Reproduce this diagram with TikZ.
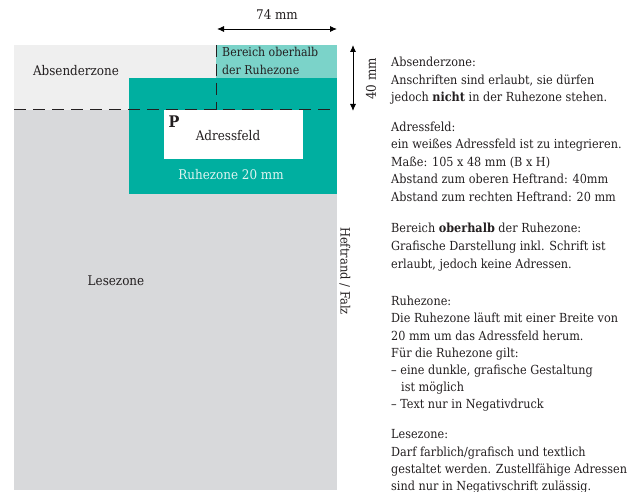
\documentclass[tikz,border=0pt]{standalone}
\usepackage{fontspec}
\setmainfont{DejaVu Serif Condensed}
\usetikzlibrary{arrows.meta}
\definecolor{cAbs}{HTML}{EFEFEF}
\definecolor{cLese}{HTML}{D8D9DB}
\definecolor{cTeal}{HTML}{00AFA0}
\definecolor{cTealL}{HTML}{7BD3C9}
\definecolor{cInk}{HTML}{231F20}
\definecolor{cNeg}{HTML}{DDF4F1}
\begin{document}
\begin{tikzpicture}[x=1pt,y=-1pt,
  txt/.style={anchor=base west, inner sep=0pt, font=\fontsize{12.5}{14}\selectfont, text=cInk},
  lbl/.style={inner sep=0pt, font=\fontsize{13.3}{14}\selectfont, text=cInk},
  dashline/.style={draw=cInk, line width=1pt, dash pattern=on 12pt off 7pt},
  dim/.style={draw=black, line width=0.9pt, {Latex[length=7pt,width=6pt]}-{Latex[length=7pt,width=6pt]}}]
\useasboundingbox (0,0) rectangle (627,492);
% zones
\fill[cLese] (14,45) rectangle (337,490);
\fill[cAbs] (14,45) rectangle (216,110);
\fill[cTealL] (216,45) rectangle (337,78);
\fill[cTeal] (129,78) rectangle (337,194);
\fill[white] (164,110) rectangle (303,159);
% dashed lines
\coordinate (hl) at (14,110);
\coordinate (hr) at (337,110);
\coordinate (vt) at (216,45);
\coordinate (vb) at (216,110);
\draw[dashline] (hl) -- (hr);
\draw[dashline] (vt) -- (vb);
% dimensions
\coordinate (wa) at (217,29);
\coordinate (wb) at (337,29);
\draw[dim] (wa) -- (wb);
\node[lbl] (w74) at (277,15) {74 mm};
\coordinate (ha) at (353,45);
\coordinate (hb) at (353,111);
\draw[dim] (ha) -- (hb);
\node[lbl, rotate=90] (h40) at (371,79) {40 mm};
% zone labels
\node[lbl] (absz) at (76,71) {Absenderzone};
\node[txt, font=\fontsize{12.2}{14}\selectfont] (ber1) at (222,57) {Bereich oberhalb};
\node[txt, font=\fontsize{12.2}{14}\selectfont] (ber2) at (222,75) {der Ruhezone};
\node[lbl, font=\fontsize{16}{17}\bfseries] (pp) at (174,122) {P};
\node[lbl] (adr) at (228,136) {Adressfeld};
\node[lbl, text=cNeg] (ruh) at (231,175) {Ruhezone 20 mm};
\node[lbl] (les) at (116,281) {Lesezone};
\node[lbl, rotate=-90, font=\fontsize{12.8}{14}\selectfont] (heft) at (345,271) {Heftrand / Falz};
% right text
\node[txt] (a1) at (391,67) {Absenderzone:};
\node[txt] (a2) at (391,85) {Anschriften sind erlaubt, sie dürfen};
\node[txt] (a3) at (391,102) {jedoch \textbf{nicht} in der Ruhezone stehen.};
\node[txt] (b1) at (391,132) {Adressfeld:};
\node[txt] (b2) at (391,149) {ein weißes Adressfeld ist zu integrieren.};
\node[txt] (b3) at (391,167) {Maße: 105 x 48 mm (B x H)};
\node[txt] (b4) at (391,184) {Abstand zum oberen Heftrand: 40mm};
\node[txt] (b5) at (391,202) {Abstand zum rechten Heftrand: 20 mm};
\node[txt] (c1) at (391,233) {Bereich \textbf{oberhalb} der Ruhezone:};
\node[txt] (c2) at (391,251) {Grafische Darstellung inkl. Schrift ist};
\node[txt] (c3) at (391,269) {erlaubt, jedoch keine Adressen.};
\node[txt] (d1) at (391,305) {Ruhezone:};
\node[txt] (d2) at (391,322) {Die Ruhezone läuft mit einer Breite von};
\node[txt] (d3) at (391,340) {20 mm um das Adressfeld herum.};
\node[txt] (d4) at (391,357) {Für die Ruhezone gilt:};
\node[txt] (d5) at (391,374) {– eine dunkle, grafische Gestaltung};
\node[txt] (d6) at (401,391) {ist möglich};
\node[txt] (d7) at (391,408) {– Text nur in Negativdruck};
\node[txt] (e1) at (391,438) {Lesezone:};
\node[txt] (e2) at (391,456) {Darf farblich/grafisch und textlich};
\node[txt] (e3) at (391,473) {gestaltet werden. Zustellfähige Adressen};
\node[txt] (e4) at (391,490) {sind nur in Negativschrift zulässig.};
\end{tikzpicture}
\end{document}
